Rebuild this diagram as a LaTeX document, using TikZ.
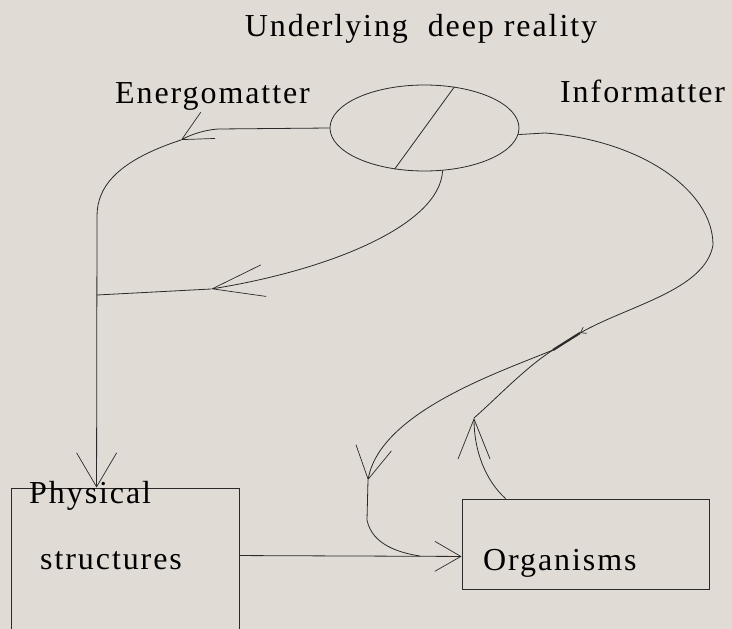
\documentclass[tikz,border=0pt]{standalone}
\usepackage{fontspec}
\setmainfont[LetterSpace=6]{Liberation Serif}
\usetikzlibrary{shapes.geometric, arrows.meta, calc}
\definecolor{Paper_Grey}{HTML}{E0DBD4}
\definecolor{Ink_Dark}{HTML}{2A2A2A}

\tikzset{
  flow/.style={draw=Ink_Dark, line width=0.8pt},
  barb/.style args={#1/#2}{-{Straight Barb[length=#1pt, width=#2pt, line width=0.7pt]}},
  txt/.style={font=\fontsize{32}{38}\selectfont, text=black, inner sep=0pt, anchor=base west},
  box/.style={draw=Ink_Dark, line width=0.9pt, inner sep=0pt}
}

\begin{document}
\begin{tikzpicture}[x=1pt, y=-1pt]
    % ===== Paper =====
    \fill[Paper_Grey] (0,0) rectangle (732,629);
    \useasboundingbox (0,0) rectangle (732,629);
    \clip (0,0) rectangle (732,629);

    % ===== Deep reality =====
    \node[txt, anchor=base] (title) at (421,37) {Underlying\ \ deep reality};
    \node[txt] (energo) at (115,103) {Energomatter};
    \node[txt] (inform) at (560,102) {Informatter};

    \node[ellipse, box, line width=0.8pt, minimum width=189pt, minimum height=86pt] (core) at (424.5,128) {};
    \draw[flow] (core.54) -- (core.-126);

    % ===== Boxes =====
    \node[box, minimum width=228pt, minimum height=212pt] (phys) at (125,594) {};
    \node[box, minimum width=247pt, minimum height=90pt] (org) at (585.5,544) {};
    \node[txt] (physA) at (29,503) {Physical};
    \node[txt] (physB) at (40,569) {structures};
    \node[txt] (orgT) at (483,570) {Organisms};

    % ===== Energomatter branch =====
    \coordinate (e1) at (218,129);
    \coordinate (e2) at (181,140);
    \coordinate (e3) at (97,216);
    \coordinate (e4) at (211,289);
    \coordinate (e5) at (97,295);
    \coordinate (physin) at ($(phys.north west)+(86,0)$);

    \draw[flow, barb=30/30] (core.west) -- (e1) .. controls (205,130) and (192,134) .. (e2);
    \draw[flow] (e2) .. controls (120,160) and (97,185) .. (e3);
    \draw[flow, barb=34/40] (e3) -- (physin);
    \draw[flow, barb=52/32] (core.-67) .. controls (440,225) and (330,270) .. (e4);
    \draw[flow] (e4) -- (e5);

    % ===== Informatter branch =====
    \coordinate (i1) at (545,133);
    \coordinate (i2) at (713,245);
    \coordinate (i3) at (580,333);
    \coordinate (jn) at (553,350);
    \coordinate (d1) at (368,480);
    \coordinate (d2) at (367,520);
    \coordinate (d3) at (420,556);
    \coordinate (u1) at (474,418);
    \coordinate (orgup) at ($(org.north west)+(44,0)$);

    \draw[flow] (core.-4) -- (i1) .. controls (640,140) and (713,190) .. (i2);
    \draw[flow, barb=5/7] (i2) .. controls (705,290) and (630,305) .. (i3);
    \draw[flow, line width=2.2pt] (i3) -- (jn);
    \draw[flow, barb=32/36] (jn) .. controls (500,372) and (380,412) .. (d1);
    \draw[flow] (d1) -- (d2) .. controls (372,545) and (400,553) .. (d3);
    \draw[flow, barb=40/32] (orgup) .. controls (485,480) and (474,450) .. (u1);
    \draw[flow] (u1) .. controls (500,395) and (525,368) .. (jn);

    % ===== Physical to organisms =====
    \draw[flow, barb=26/30] ($(phys.north east)+(0,68)$) -- ($(org.south west)+(0,-33)$);
\end{tikzpicture}
\end{document}
